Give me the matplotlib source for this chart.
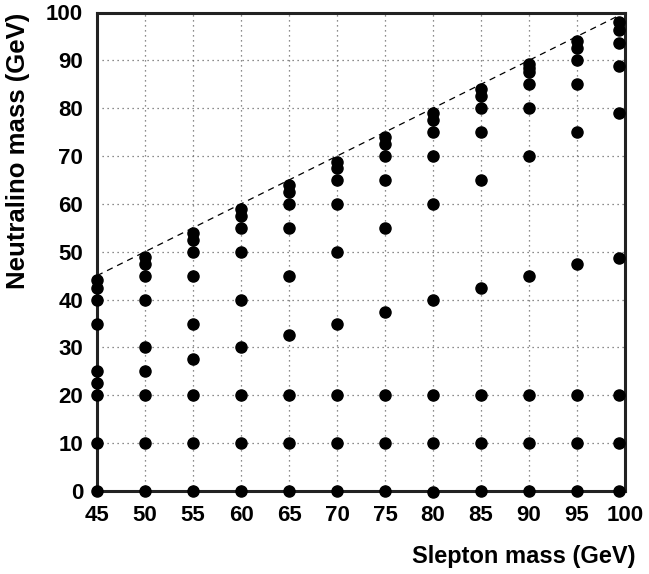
import matplotlib
matplotlib.use('Agg')
import matplotlib.pyplot as plt
import numpy as np

plt.rcParams['font.family'] = ['Liberation Sans', 'DejaVu Sans']
plt.rcParams['font.weight'] = 'bold'

# slepton mass grid and the neutralino masses scanned at each point
slepton = [45, 50, 55, 60, 65, 70, 75, 80, 85, 90, 95, 99.4]
neutralino = [
    [44, 42.5, 40, 35, 25, 22.5, 20, 10, 0],
    [49, 47.5, 45, 40, 30, 25, 20, 10, 0],
    [54, 52.5, 50, 45, 35, 27.5, 20, 10, 0],
    [59, 57.5, 55, 50, 40, 30, 20, 10, 0],
    [64, 62.5, 60, 55, 45, 32.5, 20, 10, 0],
    [68.7, 67.5, 65, 60, 50, 35, 20, 10, 0],
    [74, 72.5, 70, 65, 55, 37.5, 20, 10, 0],
    [79, 77.5, 75, 70, 60, 40, 20, 10, -0.3],
    [84, 82.5, 80, 75, 65, 42.5, 20, 10, 0],
    [89.3, 88.5, 87.5, 85, 80, 70, 45, 20, 10, 0],
    [94, 92.5, 90, 85, 75, 47.5, 20, 10, 0],
    [98, 96.4, 93.6, 88.8, 78.9, 48.7, 20, 10, 0],
]

xticks = list(range(45, 101, 5))
yticks = list(range(0, 101, 10))

fig = plt.figure(figsize=(6.49, 5.74), dpi=100)
ax = fig.add_axes([97/649, 1-491/574, 528/649, 478.5/574])

# kinematic limit m_chi = m_slepton
ax.plot([45, 100], [45, 100], color='black', lw=0.9, ls=(0, (5, 4)), zorder=2)

for x, ys in zip(slepton, neutralino):
    ax.plot([x]*len(ys), ys, 'o', color='black', ms=8, clip_on=False, zorder=3)

ax.set_xlim(45, 100)
ax.set_ylim(0, 100)
ax.set_xticks(xticks)
ax.set_yticks(yticks)
ax.tick_params(length=0, labelsize=16, pad=10)
for lab in ax.get_xticklabels() + ax.get_yticklabels():
    lab.set_fontweight('bold')

ax.grid(True, color='#666666', ls=(0, (1, 3)), lw=0.9)
for sp in ax.spines.values():
    sp.set_linewidth(2.2)
    sp.set_color('#222222')

fig.text(635/649, 1-556/574, 'Slepton mass (GeV)', ha='right', va='center',
         fontsize=17, fontweight='bold')
fig.text(18/649, 1-151/574, 'Neutralino mass (GeV)', ha='center', va='center',
         rotation=90, fontsize=18.5, fontweight='bold')

fig.savefig('out.png', dpi=100)
